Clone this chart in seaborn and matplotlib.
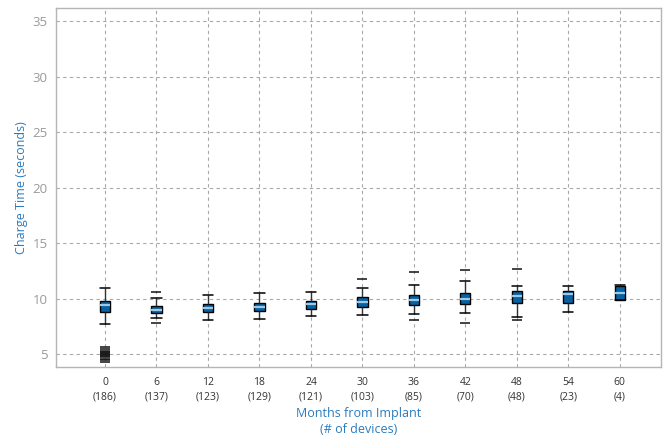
import numpy as np
import pandas as pd
import matplotlib
matplotlib.use("Agg")
import matplotlib.pyplot as plt
import seaborn as sns

# ---- data ----
months = ["0", "6", "12", "18", "24", "30", "36", "42", "48", "54", "60"]
devices = [186, 137, 123, 129, 121, 103, 85, 70, 48, 23, 4]
whisker_low = [7.73, 8.25, 8.12, 8.21, 8.43, 8.54, 8.60, 8.70, 8.36, 8.81, 9.85]
q1 = [8.84, 8.70, 8.84, 8.93, 9.11, 9.27, 9.45, 9.56, 9.60, 9.65, 9.85]
median = [9.42, 9.02, 9.17, 9.29, 9.50, 9.69, 9.90, 10.01, 10.26, 10.44, 10.53]
q3 = [9.81, 9.35, 9.54, 9.65, 9.83, 10.14, 10.32, 10.50, 10.71, 10.74, 11.16]
whisker_high = [11.0, 10.05, 10.37, 10.53, 10.59, 10.95, 11.28, 11.58, 11.13, 11.19, 11.28]
fliers = {
    "0": [5.62, 5.45, 5.32, 5.2, 5.1, 5.0, 4.92, 4.83, 4.74, 4.62, 4.45, 4.28],
    "6": [10.65, 7.8],
    "30": [11.8],
    "36": [12.45, 8.05],
    "42": [12.6, 7.8],
    "48": [12.7, 8.07],
}

# five-number data per group -> exact quartiles with linear interpolation
rows = []
for i, m in enumerate(months):
    for v in (whisker_low[i], q1[i], median[i], q3[i], whisker_high[i]):
        rows.append({"month": m, "value": v})
box_df = pd.DataFrame(rows)
flier_df = pd.DataFrame([{"month": m, "value": v} for m, vs in fliers.items() for v in vs])

sns.set_theme(style="white")
plt.rcParams["font.family"] = ["Open Sans", "DejaVu Sans"]

fig = plt.figure(figsize=(6.67, 4.37), dpi=100)
ax = fig.add_axes([0.084, 0.16, 0.907, 0.8217])

box_color = "#0862a2"
sns.boxplot(data=box_df, x="month", y="value", order=months, ax=ax,
            whis=np.inf, width=0.2, color=box_color, saturation=1,
            linecolor="black", linewidth=1.0, showfliers=False,
            medianprops=dict(color="#9cc8e6", linewidth=1.6),
            whiskerprops=dict(color="#333333", linewidth=1.0),
            capprops=dict(color="black", linewidth=1.1),
            boxprops=dict(edgecolor="black", linewidth=1.0),
            capwidths=0.2, zorder=3)

sns.stripplot(data=flier_df, x="month", y="value", order=months, ax=ax,
              jitter=False, marker="_", size=7, linewidth=1.1,
              color="#111111", zorder=4)

ax.set_xlim(-0.95, 10.8)
ax.set_ylim(3.85, 36.2)
ax.set_yticks([5, 10, 15, 20, 25, 30, 35])
ax.set_xticks(range(len(months)))
ax.set_xticklabels([f"{m}\n({n})" for m, n in zip(months, devices)],
                   linespacing=1.45)
ax.tick_params(axis="y", colors="#9a9a9a", labelsize=9.5, length=0, pad=6)
ax.tick_params(axis="x", colors="#333333", labelsize=7.5, length=0, pad=7)

ax.grid(True, linestyle=(0, (3, 3)), color="#a8a8a8", linewidth=0.8)
ax.set_axisbelow(True)
for s in ax.spines.values():
    s.set_color("#b5b5b5")
    s.set_linewidth(1.0)

lab_color = "#2a7bbd"
ax.set_xlabel("Months from Implant\n(# of devices)", color=lab_color,
              fontsize=9, linespacing=1.35, labelpad=3)
ax.set_ylabel("Charge Time (seconds)", color=lab_color, fontsize=9, labelpad=3)

fig.savefig("out.png", dpi=100)
